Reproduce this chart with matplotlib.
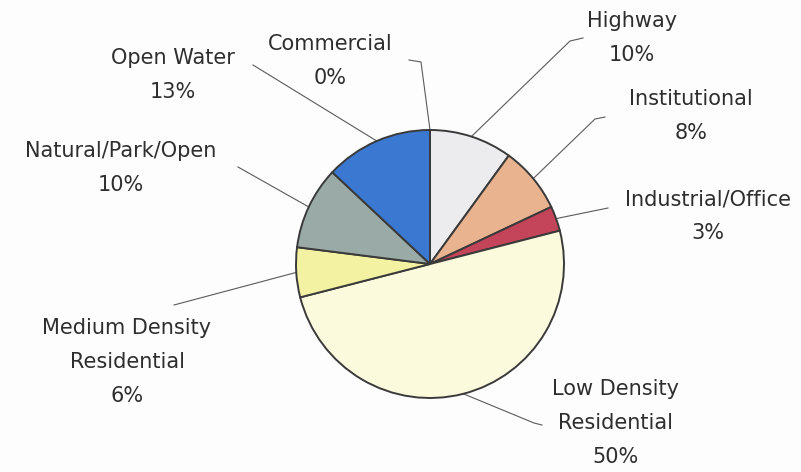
import numpy as np
import matplotlib
matplotlib.use('Agg')
import matplotlib.pyplot as plt

# land use shares, clockwise from 12 o'clock
categories = ["Commercial", "Highway", "Institutional", "Industrial/Office",
              "Low Density\nResidential", "Medium Density\nResidential",
              "Natural/Park/Open", "Open Water"]
shares = [0, 10, 8, 3, 50, 6, 10, 13]
colors = ["#dfe3f0", "#ececef", "#e8b38e", "#c4445a",
          "#fbfadc", "#f3f1a2", "#9aaba7", "#3b78d2"]

W, H = 801, 472

# label block centres and leader elbows, in pixel coords (y from top)
label_pos = {
    "Commercial": (330, 61),
    "Highway": (632, 38),
    "Institutional": (691, 116),
    "Industrial/Office": (708, 216),
    "Low Density\nResidential": (616, 423),
    "Medium Density\nResidential": (127, 362),
    "Natural/Park/Open": (121, 168),
    "Open Water": (173, 75),
}
leader_pts = {
    "Commercial": [(409, 60), (421, 62)],
    "Highway": [(583, 38), (570, 41)],
    "Institutional": [(605, 117), (595, 119)],
    "Industrial/Office": [(608, 208)],
    "Low Density\nResidential": [(542, 425), (534, 423)],
    "Medium Density\nResidential": [(174, 305)],
    "Natural/Park/Open": [(238, 167)],
    "Open Water": [(253, 65)],
}

cx, cy, r = 430, 264, 134

fig = plt.figure(figsize=(W / 100, H / 100), dpi=100)
fig.patch.set_facecolor("#fdfdfd")
ax = fig.add_axes([0, 0, 1, 1])

wedges, _ = ax.pie(shares, colors=colors, startangle=90, counterclock=False,
                   center=(cx, H - cy), radius=r,
                   wedgeprops=dict(edgecolor="#3a3a3a", linewidth=1.4))

for w, name, val in zip(wedges, categories, shares):
    mid = np.deg2rad((w.theta1 + w.theta2) / 2)
    ex = cx + r * np.cos(mid)
    ey = H - cy + r * np.sin(mid)
    xs = [p[0] for p in leader_pts[name]] + [ex]
    ys = [H - p[1] for p in leader_pts[name]] + [ey]
    ax.plot(xs, ys, color="#5a5a5a", lw=0.8, zorder=0)

    lx, ly = label_pos[name]
    ax.text(lx, H - ly, f"{name}\n{val}%", ha="center", va="center",
            fontsize=15, color="#2e2e2e", linespacing=1.85,
            family="DejaVu Sans")

ax.set_xlim(0, W)
ax.set_ylim(0, H)
ax.set_aspect("equal")
ax.axis("off")

fig.savefig("out.png", dpi=100, facecolor=fig.get_facecolor())
